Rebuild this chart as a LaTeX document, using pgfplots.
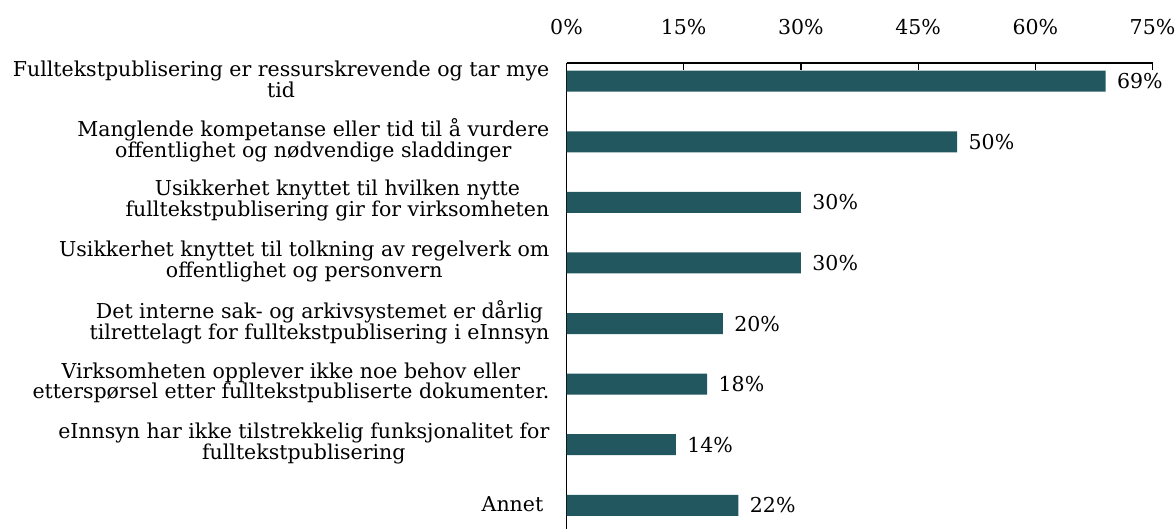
\documentclass[border=0pt]{standalone}
\usepackage{pgfplots}
\pgfplotsset{compat=1.18}
\usepackage{fontspec}
\setmainfont{DejaVu Serif}
\definecolor{barc}{RGB}{35,87,96}
\newcommand{\lf}{\fontsize{20.5}{20}\selectfont}
\begin{document}
\begin{tikzpicture}
\useasboundingbox (0pt,0pt) rectangle (1175pt,529pt);
\begin{axis}[
  at={(566.5pt,466pt)}, anchor=north west,
  scale only axis, width=586pt, height=478.7pt,
  xbar, bar width=21pt,
  xmin=0, xmax=75,
  ymin=-0.3, ymax=7.6, y dir=reverse,
  axis x line=top, axis y line=left,
  every non boxed x axis/.append style={x axis line style=-},
  every non boxed y axis/.append style={y axis line style=-},
  every outer x axis line/.append style={-},
  every inner x axis line/.append style={-},
  every outer y axis line/.append style={-},
  every inner y axis line/.append style={-},
  x axis line style={-}, y axis line style={-},
  axis line style={line width=1.2pt, black},
  xtick={0,15,30,45,60,75},
  xticklabels={0\%,15\%,30\%,45\%,60\%,75\%},
  tick align=inside, major tick length=7pt,
  xtick style={line width=1.2pt, black},
  ytick={0,...,7},
  ytick style={draw=none},
  yticklabels={
    {Fulltekstpublisering er ressurskrevende og tar mye\\tid},
    {Manglende kompetanse eller tid til å vurdere\\offentlighet og nødvendige sladdinger},
    {Usikkerhet knyttet til hvilken nytte\\fulltekstpublisering gir for virksomheten},
    {Usikkerhet knyttet til tolkning av regelverk om\\offentlighet og personvern},
    {Det interne sak- og arkivsystemet er dårlig\\tilrettelagt for fulltekstpublisering i eInnsyn},
    {Virksomheten opplever ikke noe behov eller\\etterspørsel etter fulltekstpubliserte dokumenter.},
    {eInnsyn har ikke tilstrekkelig funksjonalitet for\\fulltekstpublisering},
    {Annet\hspace{6pt}}},
  xticklabel style={font=\lf, anchor=south, yshift=25pt},
  yticklabel style={font=\lf, align=center, anchor=east, inner sep=0pt, xshift=-17pt, yshift=1.5pt},
  point meta=x,
  /pgf/number format/assume math mode=true,
  nodes near coords={\pgfmathprintnumber{\pgfplotspointmeta}\%},
  nodes near coords style={font=\lf, anchor=west, xshift=8pt, black},
]
\addplot[fill=barc, draw=none] coordinates {(69,0) (50,1) (30,2) (30,3) (20,4) (18,5) (14,6) (22,7)};
\end{axis}
\end{tikzpicture}
\end{document}
